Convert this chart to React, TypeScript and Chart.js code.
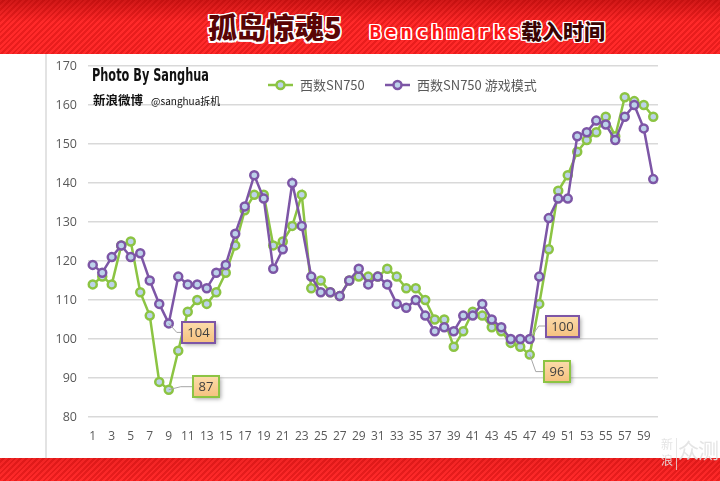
import React, { useEffect, useRef } from 'react';
import { Chart, registerables } from 'chart.js';

Chart.register(...registerables);

const categories = [
  '1', '2', '3', '4', '5', '6', '7', '8', '9', '10',
  '11', '12', '13', '14', '15', '16', '17', '18', '19', '20',
  '21', '22', '23', '24', '25', '26', '27', '28', '29', '30',
  '31', '32', '33', '34', '35', '36', '37', '38', '39', '40',
  '41', '42', '43', '44', '45', '46', '47', '48', '49', '50',
  '51', '52', '53', '54', '55', '56', '57', '58', '59', '60',
];

const seriesNames = ['西数SN750', '西数SN750 游戏模式'];

const sn750 = [
  114, 116, 114, 124, 125, 112, 106, 89, 87, 97,
  107, 110, 109, 112, 117, 124, 133, 137, 137, 124,
  125, 129, 137, 113, 115, 112, 111, 115, 116, 116,
  116, 118, 116, 113, 113, 110, 105, 105, 98, 102,
  107, 106, 103, 102, 99, 98, 96, 109, 123, 138,
  142, 148, 151, 153, 157, 152, 162, 161, 160, 157,
];

const sn750Game = [
  119, 117, 121, 124, 121, 122, 115, 109, 104, 116,
  114, 114, 113, 117, 119, 127, 134, 142, 136, 118,
  123, 140, 129, 116, 112, 112, 111, 115, 118, 114,
  116, 114, 109, 108, 110, 106, 102, 103, 102, 106,
  106, 109, 105, 103, 100, 100, 100, 116, 131, 136,
  136, 152, 153, 156, 155, 151, 157, 160, 154, 141,
];

const yMin = 80;
const yMax = 170;
const yStep = 10;

// callouts: which series / which category gets a value box
const callouts = [
  { series: 1, index: 8 },
  { series: 0, index: 8 },
  { series: 1, index: 46 },
  { series: 0, index: 46 },
];

const GREEN = '#8cc443';
const PURPLE = '#7d56a6';
const MARKER_FILL = '#bcd2ea';
const TEXT_GRAY = '#595959';
const colors = [GREEN, PURPLE];

// style offsets for callout boxes (dx to box left, dy from point to box centre, leader elbow)
const calloutStyle = [
  { dx: 13, dy: 9, ex: 8, ey: 9 },
  { dx: 24, dy: -3, ex: 12, ey: -3 },
  { dx: 16, dy: -13, ex: 9, ey: -13 },
  { dx: 14, dy: 17, ex: 6, ey: 17 },
];

const calloutPlugin = {
  id: 'callouts',
  afterDatasetsDraw(chart: any) {
    const ctx = chart.ctx as CanvasRenderingContext2D;
    ctx.save();
    callouts.forEach((c, k) => {
      const meta = chart.getDatasetMeta(c.series);
      const pt = meta.data[c.index];
      const value = chart.data.datasets[c.series].data[c.index];
      const st = calloutStyle[k];
      const x = pt.x;
      const y = pt.y;
      const text = String(value);
      ctx.font = '13px "Open Sans", "Liberation Sans", sans-serif';
      const tw = ctx.measureText(text).width;
      const w = Math.round(tw + 11);
      const h = 21;
      const bx = Math.round(x + st.dx);
      const by = Math.round(y + st.dy - h / 2);
      ctx.strokeStyle = '#a6a6a6';
      ctx.lineWidth = 1;
      ctx.beginPath();
      ctx.moveTo(x, y);
      ctx.lineTo(x + st.ex, y + st.ey);
      ctx.lineTo(bx, y + st.ey);
      ctx.stroke();
      ctx.save();
      ctx.shadowColor = 'rgba(0,0,0,0.35)';
      ctx.shadowBlur = 4;
      ctx.shadowOffsetX = 2;
      ctx.shadowOffsetY = 2;
      const g = ctx.createLinearGradient(0, by, 0, by + h);
      g.addColorStop(0, '#fcdcab');
      g.addColorStop(1, '#f5c17f');
      ctx.fillStyle = g;
      ctx.fillRect(bx, by, w, h);
      ctx.restore();
      ctx.strokeStyle = colors[c.series];
      ctx.lineWidth = 2;
      ctx.strokeRect(bx, by, w, h);
      ctx.fillStyle = '#404040';
      ctx.textAlign = 'center';
      ctx.textBaseline = 'middle';
      ctx.fillText(text, bx + w / 2, by + h / 2 + 1);
    });
    ctx.restore();
  },
};

const legendPlugin = {
  id: 'innerLegend',
  afterDraw(chart: any) {
    const ctx = chart.ctx as CanvasRenderingContext2D;
    const items = [
      { x: 268, y: 85 },
      { x: 385, y: 85 },
    ];
    ctx.save();
    chart.data.datasets.forEach((ds: any, i: number) => {
      const it = items[i];
      ctx.strokeStyle = ds.borderColor;
      ctx.lineWidth = 2.5;
      ctx.beginPath();
      ctx.moveTo(it.x, it.y);
      ctx.lineTo(it.x + 25, it.y);
      ctx.stroke();
      ctx.beginPath();
      ctx.arc(it.x + 12.5, it.y, 4, 0, Math.PI * 2);
      ctx.fillStyle = MARKER_FILL;
      ctx.fill();
      ctx.lineWidth = 2.5;
      ctx.stroke();
      ctx.fillStyle = TEXT_GRAY;
      ctx.font = '13px "Noto Sans CJK SC", "Noto Sans", sans-serif';
      ctx.textAlign = 'left';
      ctx.textBaseline = 'middle';
      ctx.fillText(ds.label, it.x + 32, it.y);
    });
    ctx.restore();
  },
};

const stripe = (dark: string) =>
  `linear-gradient(to bottom, ${dark} 0px, rgba(160,0,0,0) 22px), repeating-linear-gradient(135deg, #ff2a2a 0px, #ff2a2a 2px, #e91d1d 2px, #e91d1d 4px)`;

const outline = (c: string, r: number) =>
  [
    `${r}px 0 0 ${c}`, `-${r}px 0 0 ${c}`, `0 ${r}px 0 ${c}`, `0 -${r}px 0 ${c}`,
    `${r}px ${r}px 0 ${c}`, `-${r}px ${r}px 0 ${c}`, `${r}px -${r}px 0 ${c}`, `-${r}px -${r}px 0 ${c}`,
  ].join(', ');

export default function App() {
  const canvasRef = useRef<HTMLCanvasElement | null>(null);

  useEffect(() => {
    document.body.style.margin = '0';
    const canvas = canvasRef.current;
    if (!canvas) return;
    const chart = new Chart(canvas, {
      type: 'line',
      data: {
        labels: categories,
        datasets: [
          {
            label: seriesNames[0],
            data: sn750,
            borderColor: GREEN,
            backgroundColor: MARKER_FILL,
            pointBackgroundColor: MARKER_FILL,
            pointBorderColor: GREEN,
            borderWidth: 2.5,
            pointRadius: 4,
            pointBorderWidth: 2.5,
            tension: 0,
            order: 1,
          },
          {
            label: seriesNames[1],
            data: sn750Game,
            borderColor: PURPLE,
            backgroundColor: MARKER_FILL,
            pointBackgroundColor: MARKER_FILL,
            pointBorderColor: PURPLE,
            borderWidth: 2.5,
            pointRadius: 4,
            pointBorderWidth: 2.5,
            tension: 0,
            order: 0,
          },
        ],
      },
      options: {
        responsive: false,
        animation: false,
        devicePixelRatio: 1,
        layout: { padding: { left: 0, right: 62, top: 66, bottom: 0 } },
        plugins: {
          legend: { display: false },
          title: { display: false },
          tooltip: { enabled: false },
        },
        scales: {
          x: {
            type: 'category',
            offset: true,
            grid: { display: false, drawTicks: false },
            border: { display: false },
            afterFit: (scale: any) => {
              scale.height = 64;
            },
            ticks: {
              autoSkip: false,
              maxRotation: 0,
              minRotation: 0,
              padding: 12,
              color: TEXT_GRAY,
              font: { family: '"Open Sans", "Liberation Sans", sans-serif', size: 12 },
              callback: (_v: any, i: number) => (i % 2 === 0 ? categories[i] : ''),
            },
          },
          y: {
            min: yMin,
            max: yMax,
            afterFit: (scale: any) => {
              scale.width = 88;
            },
            grid: { color: '#d9d9d9', lineWidth: 1.5, drawTicks: false },
            border: { display: false },
            ticks: {
              stepSize: yStep,
              padding: 11,
              color: TEXT_GRAY,
              font: { family: '"Open Sans", "Liberation Sans", sans-serif', size: 12.5 },
            },
          },
        },
      },
      plugins: [calloutPlugin, legendPlugin],
    });
    return () => chart.destroy();
  }, []);

  return (
    <div style={{ position: 'absolute', left: 0, top: 0, width: 720, height: 481, background: '#ffffff', overflow: 'hidden' }}>
      <div style={{ position: 'absolute', left: 0, top: 0, width: 720, height: 54, background: stripe('rgba(150,0,0,0.45)') }} />
      <div style={{ position: 'absolute', left: 0, top: 458, width: 720, height: 23, background: stripe('rgba(150,0,0,0.15)') }} />
      <div style={{ position: 'absolute', left: 45, top: 54, width: 2, height: 404, background: '#e3e3e3' }} />
      <div style={{ position: 'absolute', left: 208, top: 5, whiteSpace: 'nowrap', fontFamily: '"Noto Sans CJK SC", sans-serif', fontWeight: 900 }}>
        <span style={{ fontSize: 29, color: '#5a0505', textShadow: outline('#ffffff', 1.5), letterSpacing: 0 }}>孤岛惊魂5</span>
        <span style={{ fontSize: 19, color: '#ff1414', textShadow: outline('#ffffff', 1.4), letterSpacing: 4, marginLeft: 28, fontFamily: '"DejaVu Sans Mono", monospace', fontWeight: 700 }}>Benchmarks</span>
        <span style={{ fontSize: 21, color: '#3a0303', textShadow: outline('#ffffff', 1.3), marginLeft: -3 }}>载入时间</span>
      </div>
      <canvas ref={canvasRef} width={720} height={481} style={{ position: 'absolute', left: 0, top: 0, width: 720, height: 481 }} />
      <div style={{ position: 'absolute', left: 92, top: 65, whiteSpace: 'nowrap', color: '#111', fontFamily: '"DejaVu Sans Condensed", "Liberation Sans Narrow", sans-serif', fontWeight: 700, fontSize: 17, transform: 'scaleX(0.74)', transformOrigin: 'left top' }}>
        Photo By Sanghua
      </div>
      <div style={{ position: 'absolute', left: 93, top: 86, whiteSpace: 'nowrap', color: '#111', fontFamily: '"Noto Sans CJK SC", sans-serif' }}>
        <span style={{ fontSize: 12.5, fontWeight: 700 }}>新浪微博</span>
        <span style={{ fontSize: 10, marginLeft: 8 }}>@sanghua拆机</span>
      </div>
      <div style={{ position: 'absolute', left: 661, top: 436, color: 'rgba(225,225,225,0.9)', fontFamily: '"Noto Sans CJK SC", sans-serif', fontSize: 12, lineHeight: '16px', width: 14 }}>
        新<br />浪
      </div>
      <div style={{ position: 'absolute', left: 676, top: 438, width: 1, height: 32, background: 'rgba(225,225,225,0.8)' }} />
      <div style={{ position: 'absolute', left: 678, top: 434, color: 'rgba(225,225,225,0.9)', fontFamily: '"Noto Sans CJK SC", sans-serif', fontSize: 21, whiteSpace: 'nowrap', letterSpacing: -1 }}>
        众测
      </div>
    </div>
  );
}
